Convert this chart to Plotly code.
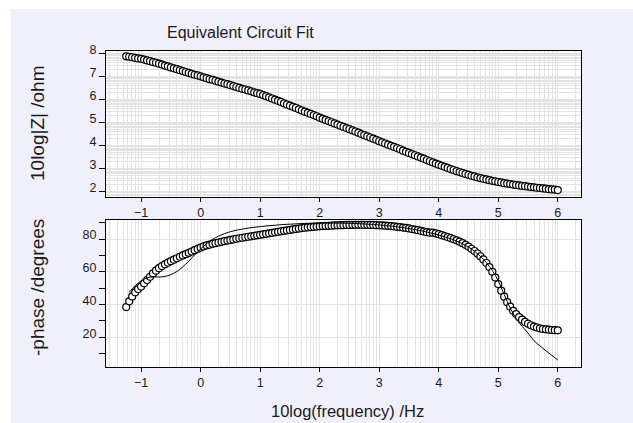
import math
import plotly.graph_objects as go

# ---------------- data ----------------
log_freq = [-1.25, -1.20, -1.15, -1.10, -1.05, -1.00, -0.95, -0.90, -0.85, -0.80,
            -0.75, -0.70, -0.65, -0.60, -0.55, -0.50, -0.45, -0.40, -0.35, -0.30,
            -0.25, -0.20, -0.15, -0.10, -0.05, 0.00, 0.05, 0.10, 0.15, 0.20,
            0.25, 0.30, 0.35, 0.40, 0.45, 0.50, 0.55, 0.60, 0.65, 0.70,
            0.75, 0.80, 0.85, 0.90, 0.95, 1.00, 1.05, 1.10, 1.15, 1.20,
            1.25, 1.30, 1.35, 1.40, 1.45, 1.50, 1.55, 1.60, 1.65, 1.70,
            1.75, 1.80, 1.85, 1.90, 1.95, 2.00, 2.05, 2.10, 2.15, 2.20,
            2.25, 2.30, 2.35, 2.40, 2.45, 2.50, 2.55, 2.60, 2.65, 2.70,
            2.75, 2.80, 2.85, 2.90, 2.95, 3.00, 3.05, 3.10, 3.15, 3.20,
            3.25, 3.30, 3.35, 3.40, 3.45, 3.50, 3.55, 3.60, 3.65, 3.70,
            3.75, 3.80, 3.85, 3.90, 3.95, 4.00, 4.05, 4.10, 4.15, 4.20,
            4.25, 4.30, 4.35, 4.40, 4.45, 4.50, 4.55, 4.60, 4.65, 4.70,
            4.75, 4.80, 4.85, 4.90, 4.95, 5.00, 5.05, 5.10, 5.15, 5.20,
            5.25, 5.30, 5.35, 5.40, 5.45, 5.50, 5.55, 5.60, 5.65, 5.70,
            5.75, 5.80, 5.85, 5.90, 5.95, 6.00]

log_z = [7.88, 7.86, 7.84, 7.81, 7.79, 7.77, 7.74, 7.70, 7.67, 7.63,
         7.60, 7.56, 7.52, 7.48, 7.44, 7.40, 7.36, 7.32, 7.28, 7.24,
         7.20, 7.16, 7.12, 7.08, 7.05, 7.01, 6.97, 6.93, 6.89, 6.86,
         6.82, 6.78, 6.74, 6.70, 6.67, 6.63, 6.59, 6.55, 6.51, 6.47,
         6.44, 6.40, 6.36, 6.32, 6.28, 6.25, 6.20, 6.15, 6.10, 6.05,
         6.00, 5.95, 5.90, 5.84, 5.79, 5.74, 5.69, 5.64, 5.58, 5.53,
         5.48, 5.43, 5.38, 5.33, 5.28, 5.22, 5.17, 5.12, 5.07, 5.02,
         4.97, 4.92, 4.87, 4.82, 4.77, 4.72, 4.67, 4.62, 4.57, 4.51,
         4.46, 4.41, 4.36, 4.31, 4.26, 4.20, 4.15, 4.10, 4.05, 4.00,
         3.95, 3.90, 3.85, 3.79, 3.74, 3.69, 3.64, 3.59, 3.54, 3.49,
         3.44, 3.38, 3.33, 3.28, 3.23, 3.18, 3.13, 3.09, 3.04, 2.99,
         2.95, 2.90, 2.86, 2.82, 2.78, 2.74, 2.70, 2.67, 2.63, 2.60,
         2.57, 2.54, 2.51, 2.48, 2.46, 2.43, 2.41, 2.38, 2.36, 2.34,
         2.32, 2.30, 2.28, 2.26, 2.25, 2.23, 2.21, 2.20, 2.18, 2.17,
         2.15, 2.14, 2.12, 2.11, 2.10, 2.08]

phase = [38.5, 42.0, 45.0, 47.5, 49.5, 51.0, 53.0, 55.0, 57.0, 59.0,
         60.7, 62.2, 63.5, 64.6, 65.6, 66.5, 67.4, 68.3, 69.2, 70.0,
         70.8, 71.6, 72.4, 73.2, 74.0, 74.8, 75.5, 76.1, 76.6, 77.1,
         77.5, 77.9, 78.3, 78.7, 79.1, 79.5, 79.8, 80.2, 80.5, 80.8,
         81.1, 81.4, 81.7, 82.0, 82.3, 82.6, 82.9, 83.2, 83.5, 83.8,
         84.1, 84.4, 84.7, 85.0, 85.3, 85.6, 85.9, 86.2, 86.4, 86.7,
         86.9, 87.1, 87.3, 87.5, 87.6, 87.8, 87.9, 88.0, 88.1, 88.2,
         88.3, 88.4, 88.5, 88.5, 88.6, 88.6, 88.7, 88.7, 88.7, 88.7,
         88.7, 88.7, 88.6, 88.6, 88.5, 88.4, 88.3, 88.2, 88.1, 87.9,
         87.7, 87.5, 87.3, 87.0, 86.8, 86.5, 86.1, 85.8, 85.4, 85.0,
         84.6, 84.2, 83.9, 83.9, 83.5, 83.0, 82.4, 81.8, 81.2, 80.6,
         79.9, 79.2, 78.4, 77.5, 76.5, 75.4, 74.1, 72.7, 71.2, 69.5,
         67.6, 65.4, 62.9, 60.0, 56.5, 52.5, 48.5, 44.8, 41.5, 38.7,
         36.2, 34.2, 32.3, 30.8, 29.4, 28.3, 27.4, 26.6, 26.0, 25.5,
         25.1, 24.9, 24.7, 24.5, 24.4, 24.3]

fit_log_freq = [-1.2, -1.1, -1.0, -0.9, -0.8, -0.7, -0.6, -0.5, -0.4, -0.3,
                -0.2, -0.1, 0.0, 0.1, 0.2, 0.3, 0.4, 0.5, 0.6, 0.7,
                0.8, 0.9, 1.0, 1.1, 1.2, 1.3, 1.4, 1.5, 1.6, 1.7,
                1.8, 1.9, 2.0, 2.1, 2.2, 2.3, 2.4, 2.5, 2.6, 2.7,
                2.8, 2.9, 3.0, 3.1, 3.2, 3.3, 3.4, 3.5, 3.6, 3.7,
                3.8, 3.9, 4.0, 4.1, 4.2, 4.3, 4.4, 4.5, 4.6, 4.7,
                4.8, 4.9, 5.0, 5.1, 5.2, 5.3, 5.4, 5.5, 5.6, 5.7,
                5.8, 5.9, 6.0]

fit_phase = [47.5, 51.5, 54.5, 56.3, 57.0, 56.8, 57.2, 58.3, 60.2, 63.0,
             66.5, 70.3, 74.0, 77.2, 79.8, 81.8, 83.3, 84.5, 85.4, 86.1,
             86.7, 87.2, 87.6, 88.0, 88.3, 88.6, 88.9, 89.1, 89.3, 89.5,
             89.6, 89.7, 89.8, 89.8, 89.8, 89.8, 89.7, 89.6, 89.5, 89.3,
             89.1, 88.9, 88.6, 88.3, 87.9, 87.5, 87.0, 86.4, 85.8, 85.1,
             84.3, 83.4, 82.5, 81.4, 80.2, 78.8, 77.1, 75.1, 72.6, 69.5,
             65.6, 60.8, 54.5, 46.0, 38.0, 31.5, 26.8, 22.6, 18.0, 14.8,
             11.8, 9.0, 6.2]

x_ticks = [-1, 0, 1, 2, 3, 4, 5, 6]
z_ticks = [2, 3, 4, 5, 6, 7, 8]
phase_ticks = [20, 40, 60, 80]
phase_minor_ticks = [10, 30, 50, 70, 90]

# ---------------- styling ----------------
FONT = "Arial, Liberation Sans, sans-serif"
GRID = "#e3e3e3"
X_RANGE = [-1.59, 6.39]
Z_RANGE = [1.78, 8.11]
P_RANGE = [1.9, 91.6]


def log_grid(lo, hi):
    vals = []
    for n in range(int(math.floor(lo)) - 1, int(math.ceil(hi)) + 1):
        for k in range(1, 10):
            v = n + math.log10(k)
            if lo < v < hi:
                vals.append(round(v, 4))
    return vals


marker = dict(symbol="circle", size=7, color="white",
              line=dict(color="black", width=1.2))

fig = go.Figure()
fig.add_trace(go.Scatter(x=log_freq, y=log_z, mode="markers", marker=marker,
                         xaxis="x", yaxis="y", showlegend=False))
fig.add_trace(go.Scatter(x=log_freq, y=phase, mode="markers", marker=marker,
                         xaxis="x2", yaxis="y2", showlegend=False))
fig.add_trace(go.Scatter(x=fit_log_freq, y=fit_phase, mode="lines",
                         line=dict(color="black", width=1, shape="spline"),
                         xaxis="x2", yaxis="y2", showlegend=False))

TICKFONT = dict(family=FONT, size=12.5, color="#1a1a1a")

xcommon = dict(range=X_RANGE, tickmode="array", tickvals=x_ticks,
               ticks="outside", ticklen=4, tickcolor="black",
               showline=True, mirror=True, linecolor="black", linewidth=1,
               showgrid=True, gridcolor=GRID, gridwidth=1, zeroline=False,
               minor=dict(tickmode="array", tickvals=log_grid(*X_RANGE),
                          showgrid=True, gridcolor=GRID, gridwidth=1, ticks=""),
               tickfont=TICKFONT)

fig.update_layout(
    width=633, height=423,
    margin=dict(l=106, r=52, t=51, b=56),
    paper_bgcolor="#f0f0fc", plot_bgcolor="white",
    font=dict(family=FONT, size=12, color="#1a1a1a"),
    xaxis=dict(anchor="y", domain=[0, 1], **xcommon),
    xaxis2=dict(anchor="y2", domain=[0, 1], **xcommon),
    yaxis=dict(domain=[0.538, 1], range=Z_RANGE, tickmode="array",
               tickvals=z_ticks, ticks="outside", ticklen=6, tickcolor="black",
               ticklabelshift=-4,
               showline=True, mirror=True, linecolor="black", linewidth=1,
               showgrid=True, gridcolor=GRID, zeroline=False,
               minor=dict(tickmode="array", tickvals=log_grid(*Z_RANGE),
                          showgrid=True, gridcolor=GRID, ticks=""),
               tickfont=TICKFONT),
    yaxis2=dict(domain=[0, 0.465], range=P_RANGE, tickmode="array",
                tickvals=phase_ticks, ticks="outside", ticklen=6,
                tickcolor="black", ticklabelshift=-4,
                showline=True, mirror=True, linecolor="black", linewidth=1,
                showgrid=True, gridcolor=GRID, zeroline=False,
                minor=dict(tickmode="array", tickvals=phase_minor_ticks,
                           ticks="outside", ticklen=6, tickcolor="black",
                           showgrid=False),
                tickfont=TICKFONT),
    shapes=[
        dict(type="rect", xref="paper", yref="paper",
             x0=-0.25, x1=(11 - 106) / 475, y0=-0.3, y1=1.2,
             fillcolor="white", line=dict(width=0), layer="below"),
        dict(type="rect", xref="paper", yref="paper",
             x0=-0.25, x1=1.2, y0=1 + (51 - 9) / 316, y1=1.2,
             fillcolor="white", line=dict(width=0), layer="below"),
    ],
    annotations=[
        dict(text="Equivalent Circuit Fit", xref="paper", yref="paper",
             x=(240 - 106) / 475, y=1 + (51 - 33) / 316, showarrow=False,
             xanchor="center", yanchor="middle",
             font=dict(family=FONT, size=16, color="#1a1a1a")),
        dict(text="10log|Z| /ohm", xref="paper", yref="paper",
             x=(37 - 106) / 475, y=1 - (124 - 51) / 316, showarrow=False,
             textangle=-90, xanchor="center", yanchor="middle",
             font=dict(family=FONT, size=19, color="#1a1a1a")),
        dict(text="-phase /degrees", xref="paper", yref="paper",
             x=(37 - 106) / 475, y=1 - (288 - 51) / 316, showarrow=False,
             textangle=-90, xanchor="center", yanchor="middle",
             font=dict(family=FONT, size=19, color="#1a1a1a")),
        dict(text="10log(frequency) /Hz", xref="paper", yref="paper",
             x=(347 - 106) / 475, y=1 - (411 - 51) / 316, showarrow=False,
             xanchor="center", yanchor="middle",
             font=dict(family=FONT, size=16.5, color="#1a1a1a")),
    ],
)

fig.write_html("out.html")
